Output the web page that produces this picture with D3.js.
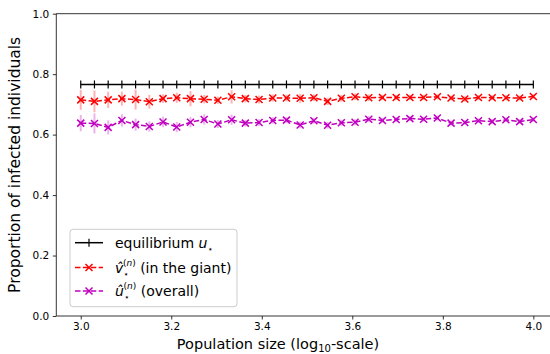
<!DOCTYPE html>
<html><head><meta charset="utf-8">
<script src="https://cdn.jsdelivr.net/npm/d3@7"></script>
<style>body{margin:0;background:#fff}svg{display:block;font-family:"DejaVu Sans",sans-serif}</style>
</head><body><svg id="c" width="550" height="354"></svg>
<script>
const logN = d3.range(34).map(i => 3 + i / 33);
const equilibrium = logN.map(() => 0.766);
const giantMean = [0.715,0.710,0.715,0.719,0.716,0.709,0.719,0.722,0.719,0.717,0.714,0.725,0.719,0.716,0.721,0.721,0.720,0.722,0.710,0.720,0.725,0.722,0.723,0.723,0.723,0.723,0.725,0.721,0.718,0.723,0.722,0.722,0.721,0.726];
const giantErr = [0.033,0.036,0.027,0.023,0.033,0.023,0.014,0.017,0.025,0.014,0.012,0.022,0.012,0.013,0.012,0.011,0.015,0.011,0.012,0.011,0.011,0.011,0.009,0.009,0.009,0.009,0.008,0.008,0.009,0.008,0.008,0.008,0.008,0.008];
const overallMean = [0.638,0.637,0.624,0.647,0.633,0.627,0.642,0.625,0.641,0.650,0.635,0.649,0.638,0.640,0.647,0.648,0.632,0.646,0.631,0.639,0.641,0.651,0.647,0.650,0.653,0.651,0.655,0.638,0.640,0.646,0.643,0.649,0.643,0.650];
const overallErr = [0.027,0.033,0.023,0.020,0.020,0.017,0.017,0.017,0.017,0.017,0.013,0.017,0.011,0.011,0.011,0.010,0.011,0.010,0.011,0.010,0.010,0.010,0.009,0.009,0.008,0.008,0.008,0.008,0.008,0.008,0.008,0.008,0.008,0.008];
const xTicks = [3.0,3.2,3.4,3.6,3.8,4.0];
const yTicks = [0.0,0.2,0.4,0.6,0.8,1.0];

const svg = d3.select("#c");
const L = 56.3, T = 13.7, B = 316;
const x = d3.scaleLinear().domain([2.946, 4.054]).range([L, L + 1.108 * 452.6]);
const y = d3.scaleLinear().domain([0, 1]).range([B, T]);

// axes
const gx = svg.append("g").attr("transform", `translate(0,${B})`)
  .call(d3.axisBottom(x).tickValues(xTicks).tickFormat(d3.format(".1f")).tickSize(3.5).tickPadding(3.5));
const gy = svg.append("g").attr("transform", `translate(${L},0)`)
  .call(d3.axisLeft(y).tickValues(yTicks).tickFormat(d3.format(".1f")).tickSize(3.5).tickPadding(3.5));
[gx, gy].forEach(g => {
  g.selectAll("text").attr("font-size", 10.5).attr("fill", "#000").attr("font-family", "DejaVu Sans");
  g.selectAll("line").attr("stroke", "#000").attr("stroke-width", 0.8);
  g.select(".domain").remove();
});
svg.append("line").attr("x1", L).attr("x2", 550).attr("y1", T).attr("y2", T).attr("stroke", "#000").attr("stroke-width", 0.8);
svg.append("line").attr("x1", L).attr("x2", 550).attr("y1", B).attr("y2", B).attr("stroke", "#000").attr("stroke-width", 0.8);
svg.append("line").attr("x1", L).attr("x2", L).attr("y1", T).attr("y2", B).attr("stroke", "#000").attr("stroke-width", 0.8);

// labels
const xl = svg.append("text").attr("x", 278).attr("y", 349).attr("text-anchor", "middle").attr("font-size", 14.5);
xl.append("tspan").text("Population size (log");
xl.append("tspan").attr("font-size", 10).attr("dy", 3).text("10");
xl.append("tspan").attr("dy", -3).text("-scale)");
svg.append("text").attr("transform", `translate(20,${(T + B) / 2}) rotate(-90)`).attr("text-anchor", "middle")
  .attr("font-size", 15.5).text("Proportion of infected individuals");

const line = d3.line().x((d, i) => x(logN[i])).y(d => y(d));
function xMarker(g, cx, cy, col) {
  const r = 3.5;
  g.append("path").attr("d", `M${cx - r},${cy - r}L${cx + r},${cy + r}M${cx - r},${cy + r}L${cx + r},${cy - r}`)
    .attr("stroke", col).attr("stroke-width", 1.5).attr("fill", "none");
}
function series(mean, err, col, lightOp) {
  const g = svg.append("g");
  g.selectAll(".eb").data(mean).join("line")
    .attr("x1", (d, i) => x(logN[i])).attr("x2", (d, i) => x(logN[i]))
    .attr("y1", (d, i) => y(d - err[i])).attr("y2", (d, i) => y(d + err[i]))
    .attr("stroke", col).attr("stroke-opacity", lightOp).attr("stroke-width", 2);
  g.append("path").attr("d", line(mean)).attr("fill", "none").attr("stroke", col)
    .attr("stroke-width", 1.5).attr("stroke-dasharray", "5.5,2.4");
  mean.forEach((d, i) => xMarker(g, x(logN[i]), y(d), col));
}
// equilibrium
const ge = svg.append("g");
ge.append("path").attr("d", line(equilibrium)).attr("fill", "none").attr("stroke", "#000").attr("stroke-width", 1.5);
equilibrium.forEach((d, i) => ge.append("line").attr("x1", x(logN[i])).attr("x2", x(logN[i]))
  .attr("y1", y(d) - 4).attr("y2", y(d) + 4).attr("stroke", "#000").attr("stroke-width", 1.2));
series(giantMean, giantErr, "#ff0000", 0.3);
series(overallMean, overallErr, "#bf00bf", 0.3);

// legend
const lg = svg.append("g");
lg.append("rect").attr("x", 70).attr("y", 229.3).attr("width", 167).attr("height", 77.4).attr("rx", 3)
  .attr("fill", "#fff").attr("fill-opacity", 0.8).attr("stroke", "#ccc").attr("stroke-width", 1);
const rows = [242.7, 267.5, 291];
lg.append("line").attr("x1", 75).attr("x2", 103).attr("y1", rows[0]).attr("y2", rows[0]).attr("stroke", "#000").attr("stroke-width", 1.5);
lg.append("line").attr("x1", 89).attr("x2", 89).attr("y1", rows[0] - 4).attr("y2", rows[0] + 4).attr("stroke", "#000").attr("stroke-width", 1.2);
[["#ff0000", rows[1]], ["#bf00bf", rows[2]]].forEach(([c, yy]) => {
  lg.append("line").attr("x1", 75).attr("x2", 103).attr("y1", yy).attr("y2", yy).attr("stroke", c)
    .attr("stroke-width", 1.5).attr("stroke-dasharray", "5.5,2.4");
  xMarker(lg, 89, yy, c);
});
const fs = 14;
const t1 = lg.append("text").attr("x", 115).attr("y", rows[0] + 5).attr("font-size", fs);
t1.append("tspan").text("equilibrium ");
t1.append("tspan").attr("font-style", "italic").text("u");
t1.append("tspan").attr("font-size", 9).attr("dy", 4).text("⋆");
function hatLabel(yy, letter, rest) {
  const t = lg.append("text").attr("x", 115).attr("y", yy + 5).attr("font-size", fs);
  t.append("tspan").attr("font-style", "italic").text(letter + "\u0302");
  t.append("tspan").attr("font-size", 9).attr("dy", 4).text("⋆");
  t.append("tspan").attr("font-size", 9).attr("dx", -6).attr("dy", -11).text("(");
  t.append("tspan").attr("font-size", 9).attr("font-style", "italic").text("n");
  t.append("tspan").attr("font-size", 9).text(")");
  t.append("tspan").attr("dy", 7).text(" " + rest);
}
hatLabel(rows[1], "v", "(in the giant)");
hatLabel(rows[2], "u", "(overall)");
</script></body></html>
